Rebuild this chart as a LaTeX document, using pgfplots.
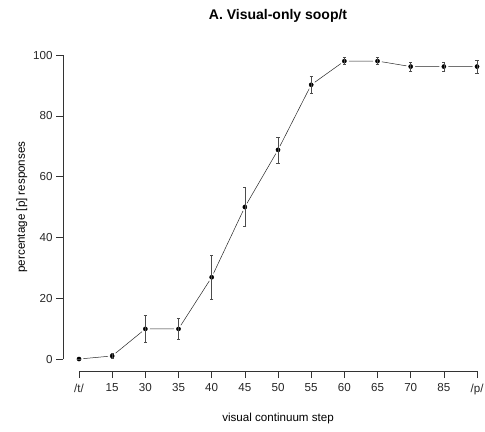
\documentclass[border=0pt]{standalone}
\usepackage{pgfplots}
\pgfplotsset{compat=1.18}
\usepackage{fontspec}
\setmainfont{Liberation Sans}

\pgfplotstableread{
x  y     e
1  0.0   0.0
2  1.0   0.9
3  9.9   4.4
4  9.9   3.5
5  26.9  7.2
6  50.0  6.4
7  68.8  4.3
8  90.2  2.9
9  98.0  1.2
10 98.0  1.2
11 96.2  1.5
12 96.2  1.5
13 96.2  2.2
}\soop

\begin{document}
\begin{tikzpicture}
\begin{axis}[
    set layers,
    x=33.17pt, y=3.04pt,
    xmin=0.52, xmax=13.48,
    ymin=-4, ymax=104,
    axis line style={draw=none},
    tick align=outside,
    xtick pos=bottom, ytick pos=left,
    major tick length=7pt,
    tick style={black!80, line width=0.5pt},
    xtick={1,...,13},
    xticklabels={/t/,15,30,35,40,45,50,55,60,65,70,85,/p/},
    ytick={0,20,...,100},
    /pgf/number format/assume math mode=true,
    ticklabel style={font=\fontsize{11.6}{13}\selectfont, black!85},
    xticklabel style={yshift=-2pt},
    clip=false,
]
% line with gaps round the points (type "b")
\addplot[black!85, line width=0.5pt, mark=*, mark size=4.2pt,
  mark options={draw=white, fill=white}] table[x=x, y=y] {\soop};
% error bars, above the white gaps
\addplot[on layer=axis foreground, draw=none, mark=none,
  error bars/.cd, y dir=both, y explicit,
  error bar style={black!70, line width=0.6pt},
  error mark options={rotate=90, mark size=1.6pt, black!70, line width=0.5pt}]
  table[x=x, y=y, y error=e] {\soop};
% points
\addplot[on layer=axis foreground, only marks, mark=*, mark size=2.1pt, black]
  table[x=x, y=y] {\soop};

% R style axis lines
\draw[black!80, line width=0.5pt] (axis cs:1,-4) -- (axis cs:13,-4);
\draw[black!80, line width=0.5pt] (axis cs:0.52,0) -- (axis cs:0.52,100);

\node[font=\fontsize{14}{16}\selectfont\bfseries] at (axis cs:7.0,112.8) {A. Visual-only soop/t};
\node[font=\fontsize{11.6}{13}\selectfont] at (axis cs:7.0,-19.7) {visual continuum step};
\node[font=\fontsize{11.6}{13}\selectfont, rotate=90] at (axis cs:-0.72,50) {percentage [p] responses};

\coordinate (bl) at (axis cs:-1.382,-23.7);
\coordinate (tr) at (axis cs:13.24,118.1);
\end{axis}
\pgfresetboundingbox
\useasboundingbox (bl) rectangle (tr);
\end{tikzpicture}
\end{document}
